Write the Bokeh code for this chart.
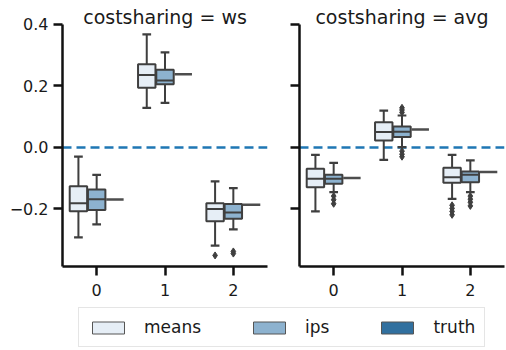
from bokeh.plotting import figure
from bokeh.models import FixedTicker, Label, Span, Legend, LegendItem, Range1d
from bokeh.layouts import column, row
from bokeh.embed import file_html
from bokeh.resources import INLINE

# ---------------- data ----------------
groups = [0, 1, 2]
hue_names = ["means", "ips", "truth"]
hue_offsets = [-0.267, 0.0, 0.267]
hue_colors = ["#e6eef6", "#8db2cf", "#31709f"]
panel_titles = ["costsharing = ws", "costsharing = avg"]
y_ticks = [-0.2, 0.0, 0.2, 0.4]
y_tick_labels = ["\u22120.2", "0.0", "0.2", "0.4"]

# costsharing = ws   (per group 0,1,2)
ws_means_lo = [-0.292, 0.129, -0.319]
ws_means_q1 = [-0.207, 0.194, -0.240]
ws_means_med = [-0.181, 0.236, -0.200]
ws_means_q3 = [-0.126, 0.271, -0.181]
ws_means_hi = [-0.030, 0.368, -0.110]
ws_means_out = [[], [], [-0.351]]

ws_ips_lo = [-0.250, 0.145, -0.266]
ws_ips_q1 = [-0.203, 0.206, -0.232]
ws_ips_med = [-0.168, 0.218, -0.211]
ws_ips_q3 = [-0.137, 0.253, -0.184]
ws_ips_hi = [-0.089, 0.309, -0.132]
ws_ips_out = [[], [], [-0.338, -0.345]]

ws_truth = [-0.169, 0.238, -0.186]

# costsharing = avg
avg_means_lo = [-0.208, -0.040, -0.167]
avg_means_q1 = [-0.129, 0.023, -0.115]
avg_means_med = [-0.102, 0.050, -0.097]
avg_means_q3 = [-0.069, 0.082, -0.066]
avg_means_hi = [-0.024, 0.120, -0.024]
avg_means_out = [[], [], [-0.188, -0.198, -0.208, -0.219]]

avg_ips_lo = [-0.145, 0.001, -0.145]
avg_ips_q1 = [-0.118, 0.034, -0.113]
avg_ips_med = [-0.102, 0.051, -0.089]
avg_ips_q3 = [-0.089, 0.068, -0.078]
avg_ips_hi = [-0.050, 0.104, -0.042]
avg_ips_out = [[-0.158, -0.170, -0.183], [0.114, 0.122, 0.129, -0.012, -0.022, -0.030],
               [-0.158, -0.168, -0.178, -0.190]]

avg_truth = [-0.099, 0.0585, -0.080]

panels = [
    dict(means=(ws_means_lo, ws_means_q1, ws_means_med, ws_means_q3, ws_means_hi, ws_means_out),
         ips=(ws_ips_lo, ws_ips_q1, ws_ips_med, ws_ips_q3, ws_ips_hi, ws_ips_out),
         truth=ws_truth),
    dict(means=(avg_means_lo, avg_means_q1, avg_means_med, avg_means_q3, avg_means_hi, avg_means_out),
         ips=(avg_ips_lo, avg_ips_q1, avg_ips_med, avg_ips_q3, avg_ips_hi, avg_ips_out),
         truth=avg_truth),
]

# ---------------- style ----------------
EDGE = "#3f3f3f"
FONT = "DejaVu Sans"
BOX_W = 0.255
CAP_HALF = BOX_W / 4
Y_MIN, Y_MAX = -0.387, 0.478   # frame extends above 0.4 to host the panel title
AXIS_TOP = 0.40
TITLE_Y = 0.424


def style_axes(p, show_y_labels):
    p.xaxis.ticker = FixedTicker(ticks=groups)
    p.yaxis.ticker = FixedTicker(ticks=y_ticks)
    p.yaxis.bounds = (Y_MIN, AXIS_TOP)
    if show_y_labels:
        p.yaxis.major_label_overrides = {t: l for t, l in zip(y_ticks, y_tick_labels)}
    else:
        p.yaxis.major_label_overrides = {t: "" for t in y_ticks}
    for ax in (p.xaxis[0], p.yaxis[0]):
        ax.axis_line_width = 2.5
        ax.axis_line_color = "#111111"
        ax.major_tick_line_width = 2.5
        ax.major_tick_line_color = "#111111"
        ax.major_tick_out = 9
        ax.major_tick_in = 0
        ax.minor_tick_line_color = None
        ax.major_label_text_font = FONT
        ax.major_label_text_font_size = "16px"
        ax.major_label_text_color = "#1a1a1a"
    p.xaxis.major_label_standoff = 8
    p.yaxis.major_label_standoff = 5
    if not show_y_labels:
        p.yaxis.major_label_standoff = 0
    p.xgrid.visible = False
    p.ygrid.visible = False
    p.outline_line_color = None


def draw_panel(p, pdata, title):
    p.add_layout(Span(location=0, dimension="width", line_color="#1f77b4",
                      line_dash="9 5", line_width=2.5, level="underlay"))
    for hi_idx, hue in enumerate(["means", "ips"]):
        lo, q1, med, q3, hi, out = pdata[hue]
        xs = [g + hue_offsets[hi_idx] for g in groups]
        # whiskers
        p.segment(x0=xs, y0=q3, x1=xs, y1=hi, line_color=EDGE, line_width=2)
        p.segment(x0=xs, y0=q1, x1=xs, y1=lo, line_color=EDGE, line_width=2)
        # caps
        p.segment(x0=[x - CAP_HALF for x in xs], y0=hi, x1=[x + CAP_HALF for x in xs], y1=hi,
                  line_color=EDGE, line_width=2.2)
        p.segment(x0=[x - CAP_HALF for x in xs], y0=lo, x1=[x + CAP_HALF for x in xs], y1=lo,
                  line_color=EDGE, line_width=2.2)
        # boxes
        p.vbar(x=xs, top=q3, bottom=q1, width=BOX_W, fill_color=hue_colors[hi_idx],
               line_color=EDGE, line_width=2)
        # medians
        p.segment(x0=[x - BOX_W / 2 for x in xs], y0=med, x1=[x + BOX_W / 2 for x in xs], y1=med,
                  line_color=EDGE, line_width=2)
        # outliers
        ox, oy = [], []
        for x, vals in zip(xs, out):
            for v in vals:
                ox.append(x)
                oy.append(v)
        if ox:
            p.scatter(x=ox, y=oy, marker="diamond", size=7, fill_color=EDGE, line_color=EDGE)
    # truth (degenerate boxes)
    tx = [g + hue_offsets[2] for g in groups]
    tv = pdata["truth"]
    p.segment(x0=[x - BOX_W / 2 for x in tx], y0=tv, x1=[x + BOX_W / 2 for x in tx], y1=tv,
              line_color="#4d4d4d", line_width=2.5)
    p.add_layout(Label(x=1, y=TITLE_Y, text=title, text_align="center",
                       text_baseline="alphabetic", text_font=FONT, text_font_size="19px",
                       text_color="#1a1a1a"))


common = dict(height=300, toolbar_location=None, output_backend="svg",
              min_border_top=0, min_border_bottom=34,
              background_fill_color="white", border_fill_color="white")

p1 = figure(width=270, min_border_left=62, min_border_right=3,
            x_range=Range1d(-0.5, 2.5), y_range=Range1d(Y_MIN, Y_MAX), **common)
p2 = figure(width=236, min_border_left=29, min_border_right=2,
            x_range=Range1d(-0.5, 2.5), y_range=Range1d(Y_MIN, Y_MAX), **common)

style_axes(p1, True)
style_axes(p2, False)
draw_panel(p1, panels[0], panel_titles[0])
draw_panel(p2, panels[1], panel_titles[1])

# legend figure (swatch renderers sit outside the visible range)
p3 = figure(width=506, height=50, x_axis_type=None, y_axis_type=None, toolbar_location=None,
            output_backend="svg", min_border=0, outline_line_color=None,
            x_range=Range1d(1, 2), y_range=Range1d(1, 2))
p3.xgrid.visible = False
p3.ygrid.visible = False
items = []
for name, col in zip(hue_names, hue_colors):
    r = p3.vbar(x=[0], top=[0], bottom=[0], width=0.1, fill_color=col,
                line_color="#555555", line_width=1)
    items.append(LegendItem(label=name, renderers=[r]))
legend = Legend(items=items, orientation="horizontal", location=(78, 3),
                glyph_width=40, glyph_height=15, label_standoff=16, spacing=48,
                padding=9, margin=0, label_text_font=FONT, label_text_font_size="17px",
                label_text_color="#1a1a1a", border_line_color="#cccccc",
                border_line_width=1.5, background_fill_color="white")
p3.add_layout(legend)

layout = column(row(p1, p2), p3)
open("out.html", "w").write(file_html(layout, INLINE))
